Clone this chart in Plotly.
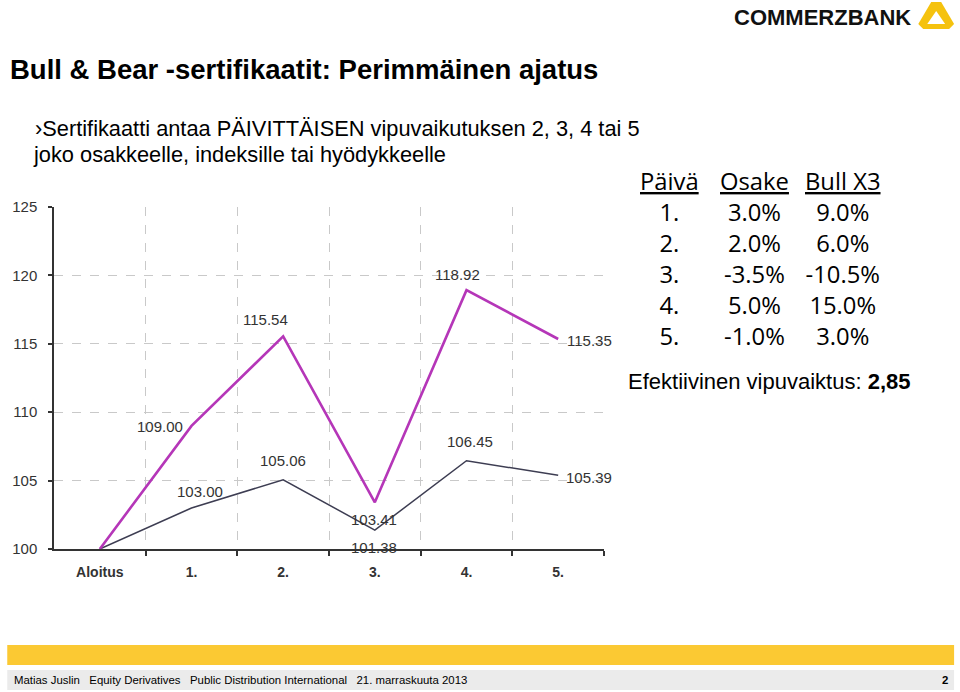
import plotly.graph_objects as go

# ---------------- data ----------------
categories = ["Aloitus", "1.", "2.", "3.", "4.", "5."]
osake_values = [100.00, 103.00, 105.06, 101.38, 106.45, 105.39]
bull_values = [100.00, 109.00, 115.54, 103.41, 118.92, 115.35]
y_ticks = [100, 105, 110, 115, 120, 125]

table_days = ["1.", "2.", "3.", "4.", "5."]
table_osake = ["3.0%", "2.0%", "-3.5%", "5.0%", "-1.0%"]
table_bull = ["9.0%", "6.0%", "-10.5%", "15.0%", "3.0%"]

# label offsets (pixels) for each data label
bull_label_shift = [None, (-32, -1), (-18, 17), (-1, -17), (-9, 16), (31, -1)]
osake_label_shift = [None, (8, 16), (0, 19), (-1, -17), (3, 19), (31, -2)]

W, H = 960, 692
L, R, T, B = 51, 604, 207, 549


def px(x):
    return (x - L) / (R - L)


def py(y):
    return (B - y) / (B - T)


BULL_COLOR = "#b536b8"
OSAKE_COLOR = "#3d3d52"
SANS = "Liberation Sans, Arial, sans-serif"
xs = list(range(len(categories)))

fig = go.Figure()
fig.add_trace(go.Scatter(x=xs, y=osake_values, mode="lines",
                         line=dict(color=OSAKE_COLOR, width=1.5),
                         name="Osake", hoverinfo="skip"))
fig.add_trace(go.Scatter(x=xs, y=bull_values, mode="lines",
                         line=dict(color=BULL_COLOR, width=2.6),
                         name="Bull X3", hoverinfo="skip"))

annotations = []
label_font = dict(family=SANS, size=15, color="#333333")
for vals, shifts in ((bull_values, bull_label_shift), (osake_values, osake_label_shift)):
    for i, v in enumerate(vals):
        if shifts[i] is None:
            continue
        dx, dy = shifts[i]
        annotations.append(dict(x=xs[i], y=v, xref="x", yref="y", text=f"{v:.2f}",
                                showarrow=False, xshift=dx, yshift=dy, font=label_font,
                                xanchor="center", yanchor="middle"))

# title and bullet text
annotations.append(dict(x=px(5), y=py(70), xref="paper", yref="paper",
                        text="<b>Bull &amp; Bear -sertifikaatit: Perimmäinen ajatus</b>",
                        showarrow=False, xanchor="left", yanchor="middle",
                        font=dict(family=SANS, size=27.5, color="#000000")))
annotations.append(dict(x=px(30), y=py(128), xref="paper", yref="paper",
                        text="›Sertifikaatti antaa PÄIVITTÄISEN vipuvaikutuksen 2, 3, 4 tai 5",
                        showarrow=False, xanchor="left", yanchor="middle",
                        font=dict(family=SANS, size=21.8, color="#000000")))
annotations.append(dict(x=px(28), y=py(155), xref="paper", yref="paper",
                        text="joko osakkeelle, indeksille tai hyödykkeelle",
                        showarrow=False, xanchor="left", yanchor="middle",
                        font=dict(family=SANS, size=21.8, color="#000000")))

# table: one multi-line text block per column
tfont = dict(family="Open Sans, Noto Sans, sans-serif", size=23.8, color="#000000")
col_x = [670, 755, 844]
headers = ["Päivä", "Osake", "Bull X3"]
columns = [table_days, table_osake, table_bull]
for cx, h, col in zip(col_x, headers, columns):
    txt = f"<u>{h}</u><br>" + "<br>".join(col)
    annotations.append(dict(x=px(cx), y=py(258), xref="paper", yref="paper",
                            text=txt, showarrow=False, xanchor="center", align="center",
                            yanchor="middle", font=tfont))

annotations.append(dict(x=px(626), y=py(381), xref="paper", yref="paper",
                        text="Efektiivinen vipuvaiktus: <b>2,85</b>",
                        showarrow=False, xanchor="left", yanchor="middle",
                        font=dict(family=SANS, size=22, color="#000000")))

# logo text
annotations.append(dict(x=px(915), y=py(17), xref="paper", yref="paper",
                        text="<b>COMMERZBANK</b>", showarrow=False, xanchor="right",
                        yanchor="middle",
                        font=dict(family=SANS, size=22, color="#111111")))

# footer text
ffont = dict(family="Liberation Sans Narrow, Arial Narrow, Liberation Sans, sans-serif",
             size=11.4, color="#000000")
annotations.append(dict(x=px(9), y=py(680), xref="paper", yref="paper",
                        text="Matias Juslin   Equity Derivatives   Public Distribution International   21. marraskuuta 2013",
                        showarrow=False, xanchor="left", yanchor="middle", font=ffont))
annotations.append(dict(x=px(952), y=py(680), xref="paper", yref="paper",
                        text="<b>2</b>", showarrow=False, xanchor="right", yanchor="middle",
                        font=ffont))

shapes = []
# footer bars
shapes.append(dict(type="rect", xref="paper", yref="paper", x0=px(4), x1=px(956),
                   y0=py(665), y1=py(645), fillcolor="#fbc933", line=dict(width=0), layer="below"))
shapes.append(dict(type="rect", xref="paper", yref="paper", x0=px(4), x1=px(956),
                   y0=py(690), y1=py(670), fillcolor="#ebebeb", line=dict(width=0), layer="below"))


def poly(points):
    d = "M " + " L ".join(f"{px(a):.5f},{py(b):.5f}" for a, b in points) + " Z"
    return d


shapes.append(dict(type="path", xref="paper", yref="paper",
                   path=poly([(933, 2), (943, 2), (956, 24), (951, 29), (925, 29), (920, 24)]),
                   fillcolor="#f5c20e", line=dict(width=0)))
shapes.append(dict(type="path", xref="paper", yref="paper",
                   path=poly([(938, 11), (947, 24), (929, 24)]),
                   fillcolor="#ffffff", line=dict(width=0)))

fig.update_layout(
    width=W, height=H,
    margin=dict(l=L, r=W - R, t=T, b=H - B, pad=0),
    paper_bgcolor="white", plot_bgcolor="white",
    showlegend=False,
    annotations=annotations,
    shapes=shapes,
    xaxis=dict(
        range=[-0.5, len(categories) - 0.5],
        tickvals=xs, ticktext=[f"<b>{c}</b>" for c in categories], ticks="",
        showgrid=False, zeroline=False,
        showline=True, linecolor="#333333", linewidth=1.5,
        tickfont=dict(family=SANS, size=14, color="#333333"),
        ticklabelstandoff=9,
        minor=dict(tickvals=[i + 0.5 for i in xs[:-1]] + [len(categories) - 0.5],
                   ticks="outside", ticklen=5, tickcolor="#333333", tickwidth=1.5,
                   showgrid=True, gridcolor="#c9c9c9", griddash="dash", gridwidth=1),
        fixedrange=True,
    ),
    yaxis=dict(
        range=[y_ticks[0], y_ticks[-1]],
        tickvals=y_ticks, ticks="outside", ticklen=4, tickcolor="#333333", tickwidth=1.5,
        showgrid=True, gridcolor="#c9c9c9", griddash="dash", gridwidth=1,
        zeroline=False, showline=True, linecolor="#333333", linewidth=1.5,
        tickfont=dict(family=SANS, size=15, color="#333333"),
        ticklabelstandoff=8,
        fixedrange=True,
    ),
)

fig.write_html("out.html")
